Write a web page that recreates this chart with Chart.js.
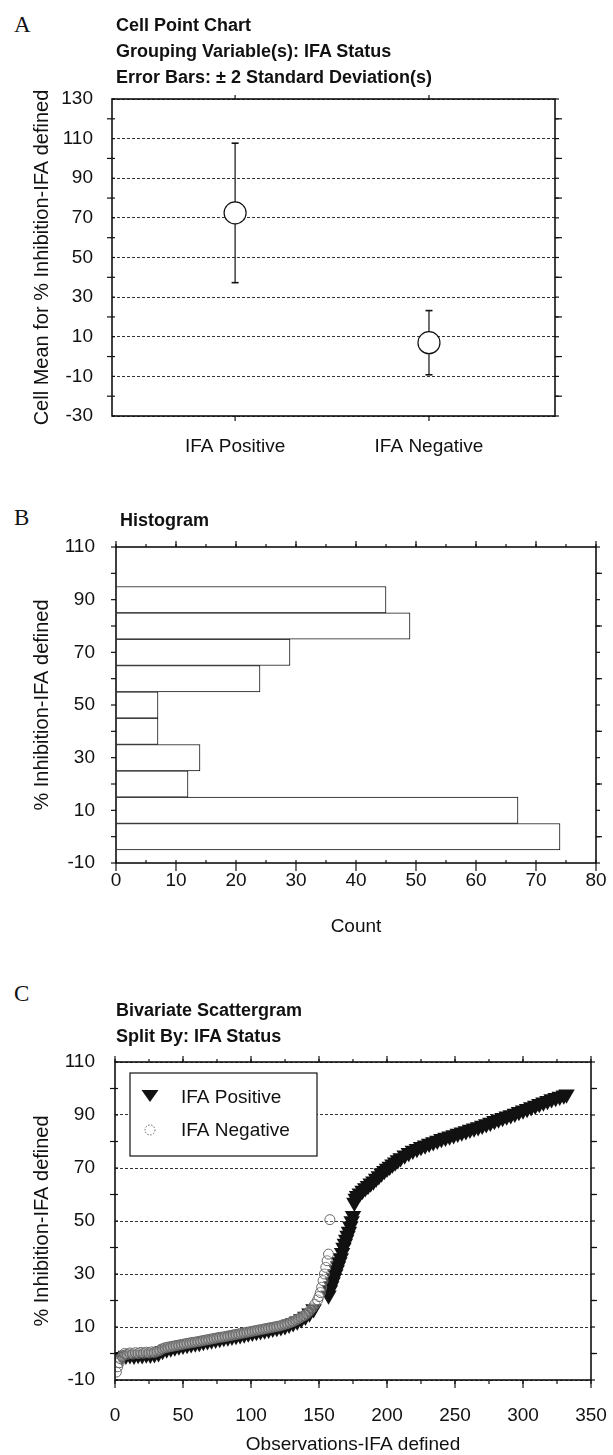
<!DOCTYPE html>
<html><head><meta charset="utf-8">
<script src="https://cdn.jsdelivr.net/npm/chart.js@4.4.1/dist/chart.umd.min.js"></script>
<style>
html,body{margin:0;padding:0;background:#fff;width:613px;height:1455px;overflow:hidden;position:relative;}
canvas{position:absolute;left:0;}
.lbl{position:absolute;left:14px;font-family:'Liberation Serif','Times New Roman',serif;font-size:23px;line-height:26px;color:#111;}
.ttl{position:absolute;font-family:'Liberation Sans',Arial,Helvetica,sans-serif;font-weight:bold;font-size:18px;line-height:26px;color:#111;white-space:nowrap;z-index:2;}
</style></head><body>
<div class="lbl" style="top:12px">A</div>
<div class="ttl" style="left:116px;top:12px">Cell Point Chart<br>Grouping Variable(s): IFA Status<br>Error Bars: ± 2 Standard Deviation(s)</div>
<div class="lbl" style="top:505px">B</div>
<div class="ttl" style="left:120px;top:507px">Histogram</div>
<div class="lbl" style="top:981px">C</div>
<div class="ttl" style="left:116px;top:997px">Bivariate Scattergram<br>Split By: IFA Status</div>
<canvas id="cA" width="613" height="400" style="top:80px"></canvas>
<canvas id="cB" width="613" height="408" style="top:530px"></canvas>
<canvas id="cC" width="613" height="420" style="top:1040px"></canvas>
<script>
// ---------- Panel A: cell point chart ----------
const groups = ['IFA Positive', 'IFA Negative'];
const groupX = [1, 2];
const cellMeans = [72.5, 7.0];
const twoSD = [35.2, 16.2];
const aYMin = -30, aYMax = 130, aYStep = 20;

// ---------- Panel B: histogram ----------
const binMid = [0, 10, 20, 30, 40, 50, 60, 70, 80, 90];
const binCount = [74, 67, 12, 14, 7, 7, 24, 29, 49, 45];
const bYMin = -10, bYMax = 110, bYStep = 20;
const bXMin = 0, bXMax = 80, bXStep = 10;

// ---------- Panel C: bivariate scattergram ----------
const posObs = [5,8,11,14,17,20,23,26,29,32,35,38,41,44,47,50,53,56,59,62,65,68,71,74,77,80,83,86,89,92,95,98,101,104,107,110,113,116,119,122,125,128,131,134,137,140,143,146,
  157,158,159,160,161,162,163,164,165,166,167,168,169,170,171,172,173,174,175,
  176,177,178,180,182,184,186,188,190,192,194,196,198,200,202,204,206,208,210,213,216,219,222,225,228,231,234,237,240,
  243,246,249,252,255,258,261,264,267,270,273,276,279,282,285,288,291,294,297,300,303,306,309,312,315,318,321,324,327,330,332];
const posPct = [-1.2,-0.8,-0.6,-0.8,-0.5,-0.6,-0.3,-0.4,-0.2,0.2,1.0,1.6,2.0,2.4,2.7,3.0,3.3,3.6,3.9,4.1,4.4,4.7,5.0,5.3,5.6,5.9,6.1,6.4,6.7,7.0,7.3,7.6,7.9,8.2,8.5,8.8,9.1,9.4,9.7,10.0,10.4,10.9,11.5,12.2,13.0,14.0,15.2,16.8,
  22,24,25.5,27,28.5,30,31.5,33,34.5,36,38,40,41.5,43,44.5,46,48,50,52,
  57,58.5,59.5,60.5,61.5,62.5,63.3,64.2,65,66,67,68,69,69.8,70.6,71.4,72.2,73,73.8,74.8,75.8,76.6,77.3,78,78.6,79.2,79.8,80.4,81,
  81.5,82,82.5,83,83.5,84,84.5,85,85.5,86,86.6,87.2,87.8,88.4,89,89.5,90,90.6,91.2,91.8,92.4,93,93.6,94.2,94.8,95.4,96,96.5,97,97.5,97.8];
const negObs = [1,2,3,4,5,7,9,11,13,15,17,19,21,23,25,27,29,31,33,35,37,39,41,43,45,47,49,51,53,55,57,59,61,63,65,67,69,71,73,75,77,79,
  81,83,85,87,89,91,93,95,97,99,101,103,105,107,109,111,113,115,117,119,121,123,125,127,129,131,133,135,137,139,141,143,145,147,149,
  150,151,152,153,154,155,156,157,158];
const negPct = [-7,-5,-3.5,-2,-1,0,-0.3,0.2,-0.2,0.3,0,0.4,0.1,0.5,0.2,0.6,0.4,0.8,1.2,1.8,2.2,2.4,2.6,2.8,3.0,3.2,3.4,3.6,3.8,4.0,4.2,4.3,4.5,4.7,4.9,5.1,5.3,5.5,5.7,5.9,6.1,6.2,
  6.4,6.6,6.8,7.0,7.2,7.4,7.6,7.8,8.0,8.2,8.4,8.6,8.8,9.0,9.2,9.4,9.6,9.8,10.0,10.2,10.4,10.7,11.0,11.3,11.7,12.1,12.6,13.1,13.7,14.3,15.0,16.0,17.2,18.6,20.2,
  21.5,23,25,27.5,30,32.5,35,37.5,50.5];
const cYMin = -10, cYMax = 110, cYStep = 20;
const cXMin = 0, cXMax = 350, cXStep = 50;

const FONT = "'Liberation Sans', Arial, Helvetica, sans-serif";
const CLEAR = 'rgba(0,0,0,0)';
Chart.defaults.font.family = FONT;
Chart.defaults.color = '#111';
Chart.defaults.animation = false;

// frame + tick marks on all four sides, placed through the chart's own scales
function makeFrameTicks(o) {
  return {
    id: 'frameTicks',
    afterDatasetsDraw(chart) {
      const {ctx, chartArea: a} = chart;
      const xs = chart.scales.x, ys = chart.scales.y;
      const vals = (s, spec) => {
        if (spec.values) return spec.values;
        const r = []; const st = spec.step;
        for (let v = Math.ceil(s.min / st - 1e-9) * st; v <= s.max + 1e-9; v += st) r.push(Math.round(v * 1e6) / 1e6);
        return r;
      };
      ctx.save();
      ctx.strokeStyle = '#111';
      ctx.lineWidth = 1.2;
      ['left', 'right', 'top', 'bottom'].forEach(side => {
        (o[side] || []).forEach(spec => {
          const s = (side === 'left' || side === 'right') ? ys : xs;
          const out = spec.out || 0, inn = spec.inn || 0;
          vals(s, spec).forEach(v => {
            const p = s.getPixelForValue(v);
            ctx.beginPath();
            if (side === 'left') { ctx.moveTo(a.left - out, p); ctx.lineTo(a.left + inn, p); }
            if (side === 'right') { ctx.moveTo(a.right - inn, p); ctx.lineTo(a.right + out, p); }
            if (side === 'top') { ctx.moveTo(p, a.top - out); ctx.lineTo(p, a.top + inn); }
            if (side === 'bottom') { ctx.moveTo(p, a.bottom - inn); ctx.lineTo(p, a.bottom + out); }
            ctx.stroke();
          });
        });
      });
      ctx.lineWidth = 1.6;
      ctx.strokeRect(a.left, a.top, a.right - a.left, a.bottom - a.top);
      ctx.restore();
    }
  };
}

// boxed legend inside the plot area (panel C)
function makeBoxLegend(o) {
  return {
    id: 'boxLegend',
    afterDraw(chart) {
      const {ctx, chartArea: a} = chart;
      const L = a.left + o.dx, T = a.top + o.dy;
      ctx.save();
      ctx.fillStyle = '#fff';
      ctx.fillRect(L, T, o.w, o.h);
      ctx.strokeStyle = '#111'; ctx.lineWidth = 1.2;
      ctx.strokeRect(L, T, o.w, o.h);
      ctx.font = '19px ' + FONT;
      ctx.textBaseline = 'middle';
      chart.data.datasets.forEach((ds, i) => {
        const y = T + o.rowY[i], x = L + o.markX;
        if (ds.pointStyle === 'triangle') {
          ctx.fillStyle = '#111';
          ctx.beginPath();
          ctx.moveTo(x - 8.5, y - 7); ctx.lineTo(x + 8.5, y - 7); ctx.lineTo(x, y + 5); ctx.closePath();
          ctx.fill();
        } else {
          ctx.strokeStyle = '#666'; ctx.lineWidth = 1;
          ctx.setLineDash([1.5, 1.5]);
          ctx.beginPath(); ctx.arc(x, y, 5, 0, Math.PI * 2); ctx.stroke();
          ctx.setLineDash([]);
        }
        ctx.fillStyle = '#111';
        ctx.fillText(ds.label, L + o.textX, y + 1);
      });
      ctx.restore();
    }
  };
}

// ---------- Chart A ----------
new Chart(document.getElementById('cA'), {
  type: 'scatter',
  data: {
    datasets: [
      { label: 'Cell Mean', data: groupX.map((x, i) => ({x, y: cellMeans[i]})),
        pointStyle: 'circle', pointRadius: 11, pointBackgroundColor: '#fff', pointBorderColor: '#111', pointBorderWidth: 1.2 },
      ...groupX.map((x, i) => ({
        label: 'Error bar ' + groups[i],
        data: [{x, y: cellMeans[i] - twoSD[i]}, {x, y: cellMeans[i] + twoSD[i]}],
        showLine: true, borderColor: '#111', borderWidth: 1.2,
        pointStyle: 'line', pointRadius: 3.5, pointBorderColor: '#111', pointBorderWidth: 1.6
      }))
    ]
  },
  options: {
    responsive: false, animation: false, events: [],
    layout: {padding: {left: 0, top: 19, right: 58, bottom: 0}},
    plugins: {legend: {display: false}, tooltip: {enabled: false}},
    scales: {
      x: {
        type: 'linear', min: 0.365, max: 2.65,
        afterFit(s) { s.height = 64; },
        afterBuildTicks(s) { s.ticks = groupX.map(v => ({value: v})); },
        ticks: {callback: (v) => { const k = groupX.indexOf(v); return k >= 0 ? groups[k] : ''; }, padding: 0, font: {size: 19}, maxRotation: 0, autoSkip: false},
        grid: {display: true, drawOnChartArea: false, drawTicks: true, tickLength: 19, tickColor: CLEAR}, border: {display: false}
      },
      y: {
        type: 'linear', min: aYMin, max: aYMax,
        afterFit(s) { s.width = 112; },
        ticks: {stepSize: aYStep, padding: 0, font: {size: 19}},
        grid: {drawTicks: true, tickLength: 19, tickColor: CLEAR, color: '#333', lineWidth: 1},
        border: {display: false, dash: [3, 2]},
        title: {display: true, text: 'Cell Mean for % Inhibition-IFA defined', font: {size: 20}, padding: {top: 30, bottom: 0}}
      }
    }
  },
  plugins: [makeFrameTicks({
    left: [{step: 10, inn: 3}, {step: 20, out: 5}],
    right: [{step: 10, out: 4}, {step: 20, out: 7}],
    top: [{values: groupX, out: 4}],
    bottom: [{values: groupX, out: 5}]
  })]
});

// ---------- Chart B ----------
new Chart(document.getElementById('cB'), {
  type: 'bar',
  data: {
    datasets: [{
      label: 'Count',
      data: binMid.map((y, i) => ({y, x: binCount[i]})),
      backgroundColor: '#fff', borderColor: '#111', borderWidth: 1,
      barPercentage: 1, categoryPercentage: 1
    }]
  },
  options: {
    indexAxis: 'y',
    responsive: false, animation: false, events: [],
    layout: {padding: {left: 0, top: 17, right: 17, bottom: 0}},
    plugins: {legend: {display: false}, tooltip: {enabled: false}},
    scales: {
      x: {
        type: 'linear', min: bXMin, max: bXMax,
        afterFit(s) { s.height = 75; },
        ticks: {stepSize: bXStep, padding: 0, font: {size: 19}, maxRotation: 0},
        grid: {display: true, drawOnChartArea: false, drawTicks: true, tickLength: 6, tickColor: CLEAR}, border: {display: false},
        title: {display: true, text: 'Count', font: {size: 19}, padding: {top: 0, bottom: 0}}
      },
      y: {
        type: 'linear', min: bYMin, max: bYMax, offset: false,
        afterFit(s) { s.width = 116; },
        ticks: {stepSize: bYStep, padding: 0, font: {size: 19}},
        grid: {display: true, drawOnChartArea: false, drawTicks: true, tickLength: 21, tickColor: CLEAR, offset: false}, border: {display: false},
        title: {display: true, text: '% Inhibition-IFA defined', font: {size: 20}, padding: {top: 30, bottom: 0}}
      }
    }
  },
  plugins: [makeFrameTicks({
    left: [{step: 10, out: 5}],
    right: [{step: 10, out: 4}, {step: 20, out: 6}],
    top: [{step: 5, out: 3}, {step: 10, out: 6}],
    bottom: [{step: 5, inn: 3}, {step: 10, out: 8}]
  })]
});

// ---------- Chart C ----------
new Chart(document.getElementById('cC'), {
  type: 'scatter',
  data: {
    datasets: [
      { label: 'IFA Positive', data: posObs.map((x, i) => ({x, y: posPct[i]})),
        pointStyle: 'triangle', pointRotation: 180, pointRadius: 9.5,
        pointBackgroundColor: '#111', pointBorderColor: '#111', pointBorderWidth: 0, order: 1 },
      { label: 'IFA Negative', data: negObs.map((x, i) => ({x, y: negPct[i]})),
        pointStyle: 'circle', pointRadius: 5,
        pointBackgroundColor: 'rgba(255,255,255,0.2)', pointBorderColor: '#666', pointBorderWidth: 1, order: 0 }
    ]
  },
  options: {
    responsive: false, animation: false, events: [],
    layout: {padding: {left: 0, top: 22, right: 22, bottom: 0}},
    plugins: {legend: {display: false}, tooltip: {enabled: false}},
    scales: {
      x: {
        type: 'linear', min: cXMin, max: cXMax,
        afterFit(s) { s.height = 80; },
        ticks: {stepSize: cXStep, padding: 0, font: {size: 19}, maxRotation: 0},
        grid: {display: true, drawOnChartArea: false, drawTicks: true, tickLength: 24, tickColor: CLEAR}, border: {display: false},
        title: {display: true, text: 'Observations-IFA defined', font: {size: 19}, padding: {top: 0, bottom: 4}}
      },
      y: {
        type: 'linear', min: cYMin, max: cYMax,
        afterFit(s) { s.width = 115; },
        ticks: {stepSize: cYStep, padding: 0, font: {size: 19}},
        grid: {drawTicks: true, tickLength: 20, tickColor: CLEAR, color: '#333', lineWidth: 1},
        border: {display: false, dash: [3, 2]},
        title: {display: true, text: '% Inhibition-IFA defined', font: {size: 20}, padding: {top: 30, bottom: 0}}
      }
    }
  },
  plugins: [
    makeFrameTicks({
      left: [{step: 10, inn: 3}, {step: 20, out: 5}],
      right: [{step: 10, out: 4}, {step: 20, out: 6}],
      top: [{step: 25, out: 3}, {step: 50, out: 6}],
      bottom: [{step: 25, out: 4}, {step: 50, out: 8}]
    }),
    makeBoxLegend({dx: 15, dy: 11, w: 187, h: 83, markX: 20, textX: 51, rowY: [24, 57]})
  ]
});
</script>
</body></html>
